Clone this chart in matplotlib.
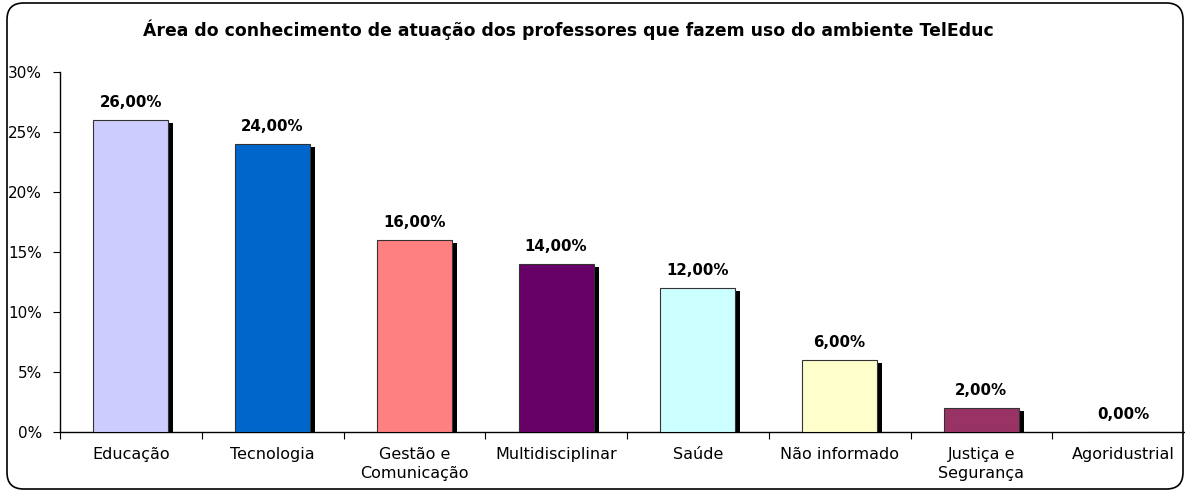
import matplotlib
matplotlib.use('Agg')
import matplotlib.pyplot as plt
import matplotlib.ticker as mtick
import matplotlib.patheffects as pe
from matplotlib.patches import FancyBboxPatch

areas = ['Educação', 'Tecnologia', 'Gestão e\nComunicação', 'Multidisciplinar',
         'Saúde', 'Não informado', 'Justiça e\nSegurança', 'Agoridustrial']
valores = [26, 24, 16, 14, 12, 6, 2, 0]
cores = ['#CCCCFF', '#0066CC', '#FF8080', '#660066',
         '#CCFFFF', '#FFFFCC', '#993366', '#FFFFFF']

plt.rcParams['font.family'] = ['DejaVu Sans']

W, H = 1185, 499
fig = plt.figure(figsize=(W / 100, H / 100), dpi=100)

# rounded frame around whole chart
borda = FancyBboxPatch((7 / W, 10 / H), 1176 / W, 486 / H,
                       boxstyle='round,pad=0,rounding_size=0.014',
                       transform=fig.transFigure, fill=False,
                       edgecolor='black', linewidth=1.2, mutation_aspect=W / H)
fig.patches.append(borda)

ax = fig.add_axes([60 / W, 67 / H, 1134 / W, 360 / H])
x = list(range(len(areas)))

bars = ax.bar(x, valores, width=0.53, color=cores, edgecolor='#333333', linewidth=0.8, zorder=3)
for b, v in zip(bars, valores):
    if v > 0:
        b.set_path_effects([pe.SimplePatchShadow(offset=(3.5, -2.5), shadow_rgbFace='black', alpha=1),
                            pe.Normal()])
    ax.annotate(f'{v:.2f}%'.replace('.', ','), (b.get_x() + b.get_width() / 2, v),
                xytext=(0, 7), textcoords='offset points', ha='center', va='bottom',
                fontsize=10.8, fontweight='bold')

ax.set_xlim(-0.5, len(areas) - 0.5)
ax.set_ylim(0, 30)
ax.yaxis.set_major_locator(mtick.MultipleLocator(5))
ax.yaxis.set_major_formatter(mtick.StrMethodFormatter('{x:.0f}%'))

ax.set_xticks([i - 0.5 for i in range(len(areas))])
ax.set_xticklabels([])
ax.set_xticks(x, minor=True)
ax.set_xticklabels(areas, minor=True, fontsize=11.5, linespacing=1.35)
ax.tick_params(axis='x', which='minor', length=0, pad=11)
ax.tick_params(axis='x', which='major', length=5, direction='out')
ax.tick_params(axis='y', length=5, direction='out', labelsize=11, pad=8)

for s in ['top', 'right']:
    ax.spines[s].set_visible(False)
ax.spines['left'].set_linewidth(1)
ax.spines['bottom'].set_linewidth(1)

fig.text(568 / W, 1 - 30 / H, 'Área do conhecimento de atuação dos professores que fazem uso do ambiente TelEduc',
         ha='center', va='center', fontsize=12.4, fontweight='bold')

plt.savefig('out.png', dpi=100)
